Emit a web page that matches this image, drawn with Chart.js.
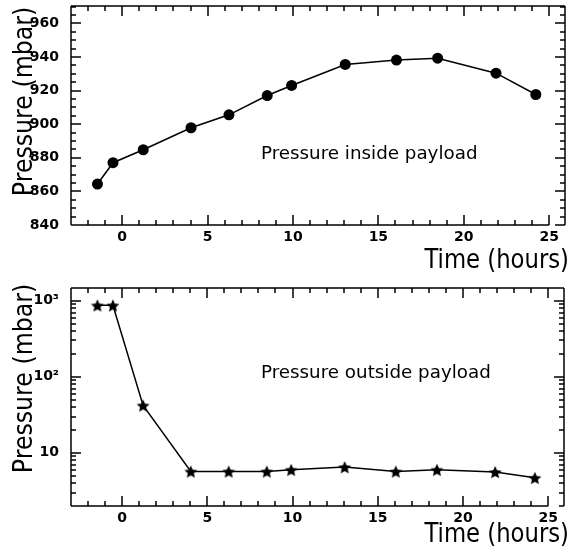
<!DOCTYPE html>
<html><head><meta charset="utf-8">
<script src="https://cdn.jsdelivr.net/npm/chart.js@4/dist/chart.umd.min.js"></script>
<style>html,body{margin:0;padding:0;background:#fff;}canvas{position:absolute;left:0;display:block}</style>
</head><body>
<canvas id="top" width="570" height="276" style="top:0"></canvas>
<canvas id="bot" width="570" height="276" style="top:276px"></canvas>
<script>
// ---- data ----
const timeHours = [-1.45, -0.54, 1.23, 4.03, 6.25, 8.49, 9.92, 13.06, 16.06, 18.47, 21.89, 24.22];
const pressureInside = [864.4, 877.1, 884.8, 897.9, 905.6, 917.1, 923.1, 935.6, 938.2, 939.3, 930.4, 917.7];
const pressureOutside = [870, 870, 42, 5.7, 5.7, 5.7, 6.0, 6.5, 5.7, 6.0, 5.6, 4.7];
const xTickValues = [0, 5, 10, 15, 20, 25];
const insideTickValues = [840, 860, 880, 900, 920, 940, 960];
const outsideTickValues = [10, 100, 1000];
const outsideTickLabels = ['10', '10\u00B2', '10\u00B3'];
const insideLabel = 'Pressure inside payload';
const outsideLabel = 'Pressure outside payload';
const yTitle = 'Pressure (mbar)';
const xTitle = 'Time (hours)';

const FONT = '"DejaVu Sans", sans-serif';
const X_MIN = -3, X_MAX = 25.9;

function starCanvas(r) {
  const s = Math.ceil(r * 2 + 2);
  const c = document.createElement('canvas');
  c.width = s; c.height = s;
  const g = c.getContext('2d');
  g.fillStyle = '#000';
  g.beginPath();
  for (let i = 0; i < 10; i++) {
    const rad = i % 2 === 0 ? r : r * 0.47;
    const a = -Math.PI / 2 + i * Math.PI / 5;
    const px = s / 2 + rad * Math.cos(a), py = s / 2 + 0.8 + rad * Math.sin(a);
    if (i === 0) g.moveTo(px, py); else g.lineTo(px, py);
  }
  g.closePath(); g.fill();
  return c;
}

function framePlugin(o) {
  return {
    id: 'frame',
    afterDraw(chart) {
      const ctx = chart.ctx, a = chart.chartArea;
      const xs = chart.scales.x, ys = chart.scales.y;
      const L = Math.round(a.left), R = Math.round(a.right);
      const T = Math.round(a.top), B = Math.round(a.bottom);
      const xEnd = xs.getPixelForValue(xTickValues[xTickValues.length - 1]);
      ctx.save();
      ctx.strokeStyle = '#000';
      ctx.lineWidth = 1.5;
      ctx.lineCap = 'butt';
      const p = new Path2D();
      p.moveTo(L, T); p.lineTo(R, T);
      p.moveTo(L, T); p.lineTo(L, B);
      p.moveTo(L, B); p.lineTo(xEnd, B);
      p.moveTo(R, T); p.lineTo(R, B);
      const xt = [];
      for (let v = -3; v <= 25; v += 1) xt.push(v);
      xt.forEach(v => {
        const px = Math.round(xs.getPixelForValue(v));
        const len = (v % 5 === 0) ? 10 : 5;
        p.moveTo(px, B); p.lineTo(px, B - len);
        p.moveTo(px, T); p.lineTo(px, T + len);
      });
      const yt = [];
      if (!o.isLog) {
        for (let v = 840; v <= o.ymax; v += 5) yt.push([v, v % 20 === 0]);
      } else {
        [1, 10, 100, 1000].forEach(d => {
          for (let m = 1; m <= 9; m++) {
            const v = m * d;
            if (v >= o.ymin && v <= o.ymax) yt.push([v, m === 1]);
          }
        });
      }
      yt.forEach(([v, major]) => {
        const py = Math.round(ys.getPixelForValue(v));
        const len = major ? 10 : 5;
        p.moveTo(L, py); p.lineTo(L + len, py);
        p.moveTo(R, py); p.lineTo(R - len, py);
      });
      ctx.stroke(p);
      ctx.fillStyle = '#000';
      ctx.font = '18.3px ' + FONT;
      ctx.textBaseline = 'alphabetic';
      ctx.textAlign = 'left';
      ctx.fillText(o.text, o.tx, o.ty);
      ctx.save();
      ctx.font = '26px ' + FONT;
      ctx.translate(569, o.xTitleY);
      ctx.scale(0.875, 1);
      ctx.textAlign = 'right';
      ctx.fillText(xTitle, 0, 0);
      ctx.restore();
      ctx.save();
      ctx.font = '26px ' + FONT;
      ctx.translate(32, o.yTitleY);
      ctx.rotate(-Math.PI / 2);
      ctx.scale(0.91, 1);
      ctx.textAlign = 'center';
      ctx.fillText(yTitle, 0, 0);
      ctx.restore();
      ctx.restore();
    }
  };
}

function makeChart(id, values, o) {
  return new Chart(document.getElementById(id), {
    type: 'line',
    data: {
      datasets: [{
        data: timeHours.map((t, i) => ({ x: t, y: values[i] })),
        borderColor: '#000',
        borderWidth: 1.5,
        backgroundColor: '#000',
        pointBackgroundColor: '#000',
        pointBorderWidth: 0,
        pointRadius: o.pointRadius,
        pointStyle: o.pointStyle,
        tension: 0,
        clip: false
      }]
    },
    options: {
      responsive: false,
      animation: false,
      devicePixelRatio: 1,
      layout: { padding: { top: o.padTop, left: 0, right: 0, bottom: 0 } },
      plugins: { legend: { display: false }, tooltip: { enabled: false } },
      scales: {
        x: {
          type: 'linear', min: X_MIN, max: X_MAX,
          grid: { display: false, drawTicks: false }, border: { display: false },
          afterBuildTicks: s => { s.ticks = xTickValues.map(v => ({ value: v })); },
          afterFit: s => { s.height = o.xHeight; s.paddingLeft = 0; s.paddingRight = 0; },
          ticks: { autoSkip: false, maxRotation: 0, padding: 4, color: '#000',
            font: { family: FONT, size: 14, weight: 'bold' } },
          title: { display: false }
        },
        y: {
          type: o.isLog ? 'logarithmic' : 'linear', min: o.ymin, max: o.ymax,
          grid: { display: false, drawTicks: false }, border: { display: false },
          afterBuildTicks: s => { s.ticks = o.yTicks.map(v => ({ value: v })); },
          afterFit: s => { s.width = 71; s.paddingTop = 0; s.paddingBottom = 0; },
          ticks: { autoSkip: false, padding: 12, color: '#000',
            font: { family: FONT, size: 14, weight: 'bold' },
            callback: o.yLabel },
          title: { display: false }
        }
      }
    },
    plugins: [framePlugin(o)]
  });
}

makeChart('top', pressureInside, {
  isLog: false,
  pointRadius: 5.5, pointStyle: 'circle', padTop: 5, xHeight: 51,
  ymin: 840, ymax: 970.7, yTicks: insideTickValues,
  yLabel: (v) => String(v),
  text: insideLabel, tx: 261, ty: 158.5, xTitleY: 267.5, yTitleY: 101.5
});

makeChart('bot', pressureOutside, {
  isLog: true,
  pointRadius: 6.5, pointStyle: starCanvas(6.8), padTop: 12, xHeight: 46,
  ymin: 2, ymax: 1470, yTicks: outsideTickValues,
  yLabel: (v, i) => outsideTickLabels[i],
  text: outsideLabel, tx: 261, ty: 102.3, xTitleY: 266, yTitleY: 102.5
});
</script>
</body></html>
